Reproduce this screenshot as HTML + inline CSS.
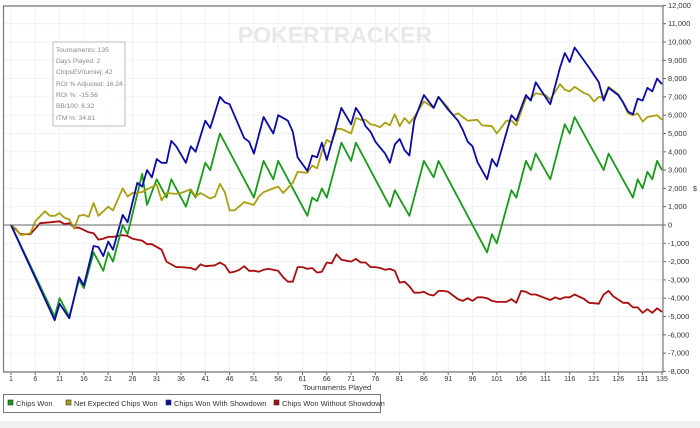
<!DOCTYPE html>
<html><head><meta charset="utf-8"><style>
body{margin:0;width:700px;height:428px;background:#fff;overflow:hidden;font-family:"Liberation Sans",sans-serif}
svg{display:block}
</style></head><body>
<svg id="c" width="700" height="428">
<rect x="0" y="421" width="700" height="7" fill="#f0f0f0"/>
<text x="335" y="43" font-size="23" font-weight="bold" fill="#e8e8e8" text-anchor="middle">POKERTRACKER</text>
<g id="grid"></g>
<g id="series"></g>
<g id="axes"></g>
<g>
<rect x="53" y="42" width="72" height="84" fill="#fff" fill-opacity="0.85" stroke="#bbb"/>
<g font-size="6.6" fill="#888">
<text x="56" y="52">Tournaments: 135</text>
<text x="56" y="63">Days Played: 2</text>
<text x="56" y="74">ChipsEV/turniej: 42</text>
<text x="56" y="86">ROI % Adjusted: 16.24</text>
<text x="56" y="97">ROI %: -15.56</text>
<text x="56" y="108">BB/100: 6.32</text>
<text x="56" y="120">ITM %: 34.81</text>
</g></g>
<text x="337" y="390" font-size="7.5" fill="#333" text-anchor="middle">Tournaments Played</text>
<text x="695" y="191" font-size="7" fill="#333" text-anchor="middle">$</text>
<g>
<rect x="3.5" y="394.5" width="377" height="18" fill="#fff" stroke="#777"/>
<g font-size="7.5" fill="#333">
<rect x="8" y="400" width="5" height="5" fill="#1a9a1a" stroke="#333" stroke-width="0.6"/><text x="16" y="406">Chips Won</text>
<rect x="66" y="400" width="5" height="5" fill="#a8a010" stroke="#333" stroke-width="0.6"/><text x="74" y="406">Net Expected Chips Won</text>
<rect x="166" y="400" width="5" height="5" fill="#0a0aa8" stroke="#333" stroke-width="0.6"/><text x="174" y="406">Chips Won With Showdown</text>
<rect x="274" y="400" width="5" height="5" fill="#a80c0c" stroke="#333" stroke-width="0.6"/><text x="282" y="406">Chips Won Without Showdown</text>
</g></g>
</svg>
<script>
const xTicks=[1,6,11,16,21,26,31,36,41,46,51,56,61,66,71,76,81,86,91,96,101,106,111,116,121,126,131,135];
const yTicks=[12000,11000,10000,9000,8000,7000,6000,5000,4000,3000,2000,1000,0,-1000,-2000,-3000,-4000,-5000,-6000,-7000,-8000];
const greenIdx=[1,10,11,13,15,16,18,20,21,22,24,25,28,29,31,33,34,37,38,39,41,42,44,51,53,55,56,62,63,64,65,66,69,71,72,79,80,83,86,88,89,99,100,101,104,105,107,108,109,112,115,116,117,123,124,129,130,131,132,133,134,135];
const greenVal=[0,-5000,-4000,-5000,-3000,-3450,-1500,-2500,-1500,-2000,0,-500,2800,1100,2500,1500,2500,1000,1900,1500,3400,3000,5000,1500,3500,2500,3500,500,1500,1300,2000,1500,4500,3500,4500,1000,1900,500,3500,2600,3500,-1500,-500,-1000,1900,1500,3500,3000,3900,2500,5500,5000,5900,3000,3900,1500,2500,2000,2900,2500,3500,3000];
const olvIdx=[1,2,3,5,6,8,9,10,11,12,13,14,15,16,17,18,19,21,22,24,25,26,28,29,31,32,33,35,36,38,39,40,42,43,44,45,46,47,49,51,52,53,55,56,57,59,60,62,63,64,65,66,67,68,69,71,72,73,74,75,76,77,78,79,80,81,82,83,84,86,88,89,91,92,93,95,97,98,100,101,103,104,105,107,108,109,111,112,114,115,116,117,119,120,121,122,123,124,126,127,128,129,130,131,132,134,135];
const olvVal=[0,-200,-550,-450,200,750,500,500,650,400,300,-200,500,550,450,1200,500,1000,800,2000,1550,1750,1800,1950,2200,1350,1750,1700,1750,1950,1550,1750,1450,1550,2250,1800,800,800,1250,1100,1550,1800,2000,2100,1750,2300,2900,2850,3250,3100,4000,4650,4500,5250,5250,5000,5850,5750,5750,5500,5450,5350,5600,5450,6050,5400,5850,5550,5900,6750,6400,7000,6400,6000,6100,5700,5750,5450,5400,5000,5700,5700,5450,6950,6900,7200,7100,6850,7700,7400,7300,7550,7200,7100,6750,7000,6950,7550,7150,6700,6100,6000,6100,5650,5900,6000,5750];
const blueIdx=[1,10,11,13,15,16,18,19,20,21,22,24,25,27,28,29,30,31,32,33,34,35,37,38,39,41,42,44,45,46,49,50,51,53,55,56,58,59,60,62,63,64,65,66,69,71,72,73,74,75,76,78,79,80,81,82,83,84,86,88,89,91,93,94,95,96,97,99,100,101,104,105,107,108,109,112,114,115,116,117,120,122,123,124,126,127,128,129,130,131,132,133,134,135];
const blueVal=[0,-5200,-4300,-5100,-2850,-3300,-1150,-1200,-1700,-900,-1350,550,150,2300,2100,3000,2600,3600,3400,3400,4600,4300,3400,4300,4000,5700,5300,7000,6700,6600,4750,4550,3900,5900,5000,6000,5700,5100,3700,2950,3800,3700,4500,3550,6400,5500,6400,6000,5400,5100,4550,3900,3400,4400,4700,4100,3800,5700,7100,6400,7000,6300,5700,5200,4550,4300,3450,2500,3600,3200,6000,5700,7100,6800,7800,6600,8600,9400,8900,9700,8600,7800,6800,7500,7100,6700,6200,6050,6900,6800,7500,7300,8000,7700];
const redIdx=[1,3,5,7,9,11,12,13,14,15,17,18,19,20,21,22,24,25,26,28,29,30,32,33,35,36,38,39,40,41,43,44,45,46,47,48,49,50,51,52,53,54,56,57,58,59,60,61,62,63,64,65,66,67,68,69,71,72,73,74,75,76,77,78,79,80,81,82,83,84,85,86,87,88,89,90,91,92,93,94,95,96,97,98,99,100,101,103,104,105,106,107,108,109,111,112,113,114,115,116,117,119,120,122,123,124,125,127,128,129,130,131,132,133,134,135];
const redVal=[0,-500,-500,100,150,200,50,100,-150,-150,-400,-450,-800,-750,-650,-650,-550,-600,-750,-850,-1050,-1050,-1350,-2000,-2300,-2300,-2350,-2450,-2150,-2250,-2200,-2050,-2200,-2600,-2550,-2450,-2250,-2500,-2500,-2550,-2450,-2400,-2500,-2850,-3100,-3100,-2300,-2300,-2400,-2350,-2600,-2550,-2050,-2100,-1600,-1900,-2000,-1850,-2050,-2050,-2300,-2300,-2350,-2450,-2400,-2500,-3150,-3100,-3350,-3700,-3700,-3650,-3800,-3850,-3600,-3600,-3650,-3850,-4050,-4150,-4000,-4150,-3950,-3950,-4000,-4150,-4200,-4200,-4050,-4250,-3600,-3650,-3800,-3800,-4000,-4100,-3950,-4050,-3950,-3950,-3800,-4050,-4250,-4300,-3800,-3600,-3900,-4250,-4250,-4500,-4500,-4800,-4600,-4800,-4550,-4750];

const NS='http://www.w3.org/2000/svg';
const L=4,R=663,T=6,B=372;
const xs=i=>11+(i-1)*(651/134);
const ys=v=>225-v*0.0183;
function mk(tag,attrs,parent){const e=document.createElementNS(NS,tag);for(const k in attrs)e.setAttribute(k,attrs[k]);parent.appendChild(e);return e;}
const grid=document.getElementById('grid'),axes=document.getElementById('axes'),ser=document.getElementById('series');
yTicks.forEach(v=>{
  const y=ys(v);
  const g=mk('line',{x1:L,x2:R,y1:y,y2:y,stroke:v===0?'#666':'#efefef','stroke-width':v===0?1:0.8},v===0?axes:grid);
  
  
  const tk=mk('line',{x1:R,x2:R+3,y1:y,y2:y,stroke:'#666'},axes);
  
  
  const t=mk('text',{x:R+5,y:y+2.5,'font-size':7.5,fill:'#333'},axes);
  t.textContent=v.toLocaleString('en-US');
  
  
});
xTicks.forEach(i=>{
  const x=xs(i);
  const g=mk('line',{x1:x,x2:x,y1:T,y2:B,stroke:'#efefef','stroke-width':0.8},grid);
  
  
  const tk=mk('line',{x1:x,x2:x,y1:B,y2:B+3,stroke:'#666'},axes);
  
  
  const t=mk('text',{x:x,y:B+9,'font-size':7,fill:'#333','text-anchor':'middle'},axes);
  t.textContent=i;
  
  
});
const frame=mk('path',{d:`M${R},${T} L${L-0.5},${T} L${L-0.5},${B} L${R},${B} L${R},${T}`,fill:'none',stroke:'#777','stroke-width':1.2},axes);


function line(idx,val,color,name){
  const p=mk('polyline',{points:idx.map((i,k)=>xs(i).toFixed(1)+','+ys(val[k]).toFixed(1)).join(' '),fill:'none',stroke:color,'stroke-width':1.8,'stroke-linejoin':'round'},ser);
  
  
}
line(redIdx,redVal,'#a80c0c','line-chips-won-without-showdown');
line(greenIdx,greenVal,'#1a9a1a','line-chips-won');
line(olvIdx,olvVal,'#a8a010','line-net-expected-chips-won');
line(blueIdx,blueVal,'#0a0aa8','line-chips-won-with-showdown');
</script>
</body></html>
